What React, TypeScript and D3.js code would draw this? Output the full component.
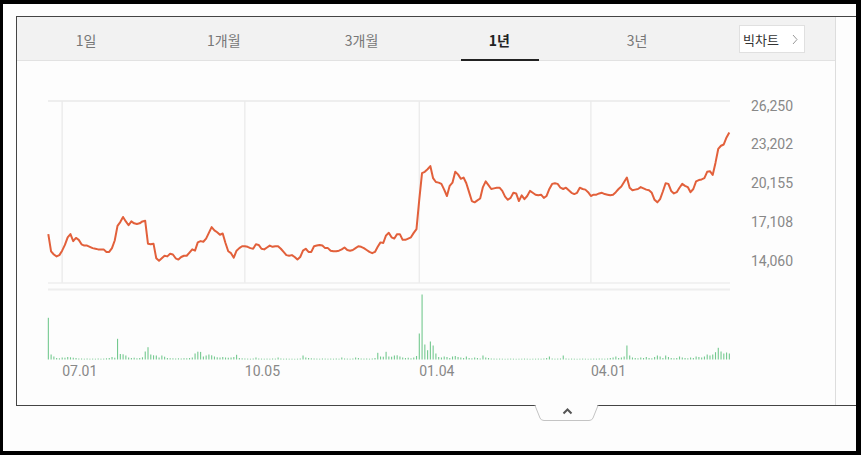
import * as d3 from 'd3'

const W = 861, H = 455

// daily close (1 year)
const prices = [
  16150, 14800, 14550, 14400, 14500, 14850, 15300, 15900, 16150, 15600,
  15850, 15700, 15350, 15250, 15250, 15150, 15050, 15000, 14950, 14950,
  14950, 14750, 14750, 15050, 15650, 16800, 17100, 17500, 17150, 16850,
  17150, 17000, 16950, 17000, 17150, 17200, 15400, 15350, 15400, 14250,
  14050, 14250, 14450, 14400, 14600, 14550, 14250, 14150, 14350, 14450,
  14450, 14700, 14950, 14850, 15500, 15600, 15550, 15800, 16250, 16700,
  16450, 16300, 16100, 16200, 15450, 14800, 14650, 14300, 14850, 15050,
  15200, 15200, 15150, 15050, 15000, 15350, 15300, 15000, 14950, 15100,
  15250, 15150, 15200, 15200, 15000, 14750, 14500, 14450, 14500, 14350,
  14150, 14350, 14850, 15000, 14750, 14750, 15200, 15250, 15300, 15250,
  15050, 15050, 14850, 14800, 14800, 14850, 14950, 15100, 14900, 14850,
  14900, 15050, 15200, 15150, 15050, 14900, 14750, 14650, 14750, 15150,
  15500, 15450, 16050, 16250, 15900, 15800, 16150, 16150, 15700, 15700,
  15800, 15900, 16250, 16550, 18850, 20950, 21050, 21250, 21500, 20550,
  20250, 20200, 20100, 19650, 19150, 19950, 20200, 21050, 20850, 20500,
  20600, 20150, 19450, 18750, 18650, 18800, 18950, 19850, 20300, 20000,
  19700, 19750, 19800, 19800, 19550, 19100, 18850, 19000, 19400, 19350,
  18750, 19200, 18900, 19150, 19550, 19400, 19250, 19200, 19250, 19000,
  19150, 19700, 20100, 20150, 20100, 19800, 19700, 19800, 19600, 19400,
  19300, 19400, 19800, 19700, 19650, 19450, 19150, 19250, 19250, 19350,
  19400, 19300, 19250, 19200, 19250, 19450, 19700, 19900, 20250, 20600,
  19800, 19600, 19650, 19700, 19850, 19750, 19650, 19600, 19400, 18850,
  18650, 18900, 19500, 20150, 20100, 19550, 19350, 19450, 19800, 20100,
  19950, 19850, 19450, 19700, 20300, 20400, 20450, 20550, 21050, 21100,
  20800, 21750, 22850, 23100, 23200, 23750, 24150,
]

// daily volume (thousand shares)
const volumes = [
  4170, 500, 300, 150, 120, 200, 180, 250, 220, 180,
  150, 100, 100, 80, 100, 80, 90, 80, 100, 80,
  90, 120, 150, 250, 180, 2070, 550, 520, 400, 200,
  150, 180, 120, 150, 220, 800, 1230, 500, 420, 400,
  200, 400, 280, 150, 130, 120, 100, 120, 100, 130,
  120, 150, 200, 600, 780, 760, 300, 400, 500, 420,
  300, 220, 200, 250, 200, 180, 200, 250, 470, 150,
  120, 100, 90, 80, 100, 200, 100, 90, 80, 90,
  80, 100, 90, 200, 100, 80, 90, 80, 80, 70,
  80, 100, 400, 200, 150, 120, 100, 90, 80, 100,
  90, 80, 90, 80, 100, 80, 200, 100, 90, 80,
  100, 200, 150, 100, 90, 100, 80, 100, 150, 670,
  300, 280, 770, 300, 280, 400, 420, 300, 200, 150,
  180, 120, 200, 350, 2600, 6500, 1500, 930, 1800, 1400,
  600, 250, 200, 300, 250, 150, 300, 350, 250, 200,
  150, 300, 150, 120, 200, 150, 100, 400, 200, 150,
  100, 90, 80, 90, 80, 70, 80, 90, 80, 70,
  80, 80, 90, 80, 70, 80, 80, 90, 80, 100,
  150, 300, 100, 80, 90, 100, 400, 100, 80, 90,
  80, 70, 80, 90, 80, 70, 80, 90, 80, 100,
  90, 80, 100, 150, 200, 300, 150, 200, 300, 1400,
  400, 200, 150, 120, 200, 150, 250, 150, 120, 250,
  400, 300, 150, 400, 250, 150, 120, 150, 300, 200,
  150, 120, 200, 150, 300, 250, 200, 300, 500, 400,
  500, 730, 1170, 800, 600, 700, 600,
]

const xTickIndex = [5, 71, 134, 196]
const xTickLabels = ['07.01', '10.05', '01.04', '04.01']
const yTicks = [14060, 17108, 20155, 23202, 26250]
const tabs = ['1일', '1개월', '3개월', '1년', '3년']
const activeTab = '1년'

const NUM_FONT = 'Roboto, "Noto Sans", sans-serif'
const KR_FONT = '"Noto Sans CJK KR", "Noto Sans", sans-serif'

export default function App() {
  const x = d3.scaleLinear().domain([0, prices.length - 1]).range([48.3, 729.3])
  const y = d3.scaleLinear().domain([14060, 26250]).range([260.7, 105.7])
  const v = d3.scaleLinear().domain([0, 6500]).range([359.5, 294.5])
  const tabX = d3.scalePoint<string>().domain(tabs).range([86, 637])

  const line = d3.line<number>().x((_, i) => x(i)).y((d) => y(d))
  const fmt = d3.format(',')

  return (
    <svg width={W} height={H} style={{ position: 'absolute', left: 0, top: 0, display: 'block' }}>
      <rect x={0} y={0} width={W} height={H} fill="#000" />
      <rect x={3} y={4} width={853} height={447} fill="#fdfdfd" />

      {/* tab bar */}
      <rect x={17} y={17} width={818} height={43} fill="#f2f2f2" />
      <line x1={17} x2={835} y1={60.5} y2={60.5} stroke="#e2e2e2" />
      {tabs.map((t) => (
        <text key={t} x={tabX(t)} y={40} textAnchor="middle" dominantBaseline="central"
          fontFamily={KR_FONT} fontSize={14} fontWeight={t === activeTab ? 700 : 400}
          fill={t === activeTab ? '#222' : '#777'}>{t}</text>
      ))}
      <line x1={461} x2={539} y1={60} y2={60} stroke="#222" strokeWidth={2} />
      <rect x={739.5} y={25.5} width={65} height={27} fill="#fff" stroke="#e0e0e0" />
      <text x={743} y={39.5} dominantBaseline="central" fontFamily={KR_FONT} fontSize={13} fill="#333">빅차트</text>
      <polyline points="793,35 797,39.5 793,44" fill="none" stroke="#999" strokeWidth={1} />

      {/* panel border */}
      <line x1={835.5} x2={835.5} y1={17} y2={405} stroke="#dddddd" />
      <line x1={16} x2={856} y1={16.5} y2={16.5} stroke="#444" />
      <line x1={16.5} x2={16.5} y1={16} y2={405} stroke="#444" />
      <line x1={16} x2={856} y1={405.5} y2={405.5} stroke="#444" />

      {/* grid */}
      <line x1={48} x2={730} y1={101} y2={101} stroke="#eeeeee" strokeWidth={2} />
      {xTickIndex.map((i) => (
        <line key={i} x1={x(i)} x2={x(i)} y1={101} y2={283} stroke="#eaeaea" strokeWidth={1.3} />
      ))}
      <line x1={48} x2={730} y1={283} y2={283} stroke="#eeeeee" strokeWidth={1.5} />
      <line x1={48} x2={730} y1={289.5} y2={289.5} stroke="#eeeeee" strokeWidth={2} />

      {/* price line */}
      <path d={line(prices) ?? ''} fill="none" stroke="#e2603b" strokeWidth={2} strokeLinejoin="round" />

      {/* y labels */}
      {yTicks.map((t) => (
        <text key={t} x={751} y={y(t)} dominantBaseline="central" fontFamily={NUM_FONT}
          fontSize={14} fill="#888">{fmt(t)}</text>
      ))}

      {/* volume */}
      {volumes.map((d, i) => (
        <rect key={i} x={x(i) - 0.5} y={v(d)} width={1.1} height={v(0) - v(d)} fill="#74c98f" />
      ))}

      {/* x labels */}
      {xTickIndex.map((idx, k) => (
        <text key={idx} x={x(idx)} y={376} fontFamily={NUM_FONT} fontSize={14} fill="#888">{xTickLabels[k]}</text>
      ))}

      {/* collapse tab */}
      <path d="M535,405.5 L540,418 Q541,420.5 544,420.5 L589,420.5 Q592,420.5 593,418 L598,405.5"
        fill="#fdfdfd" stroke="#c4c4c4" />
      <line x1={536} x2={597} y1={405.5} y2={405.5} stroke="#fdfdfd" />
      <polyline points="563.5,413.5 567.5,409.5 571.5,413.5" fill="none" stroke="#555" strokeWidth={2} />
    </svg>
  )
}
